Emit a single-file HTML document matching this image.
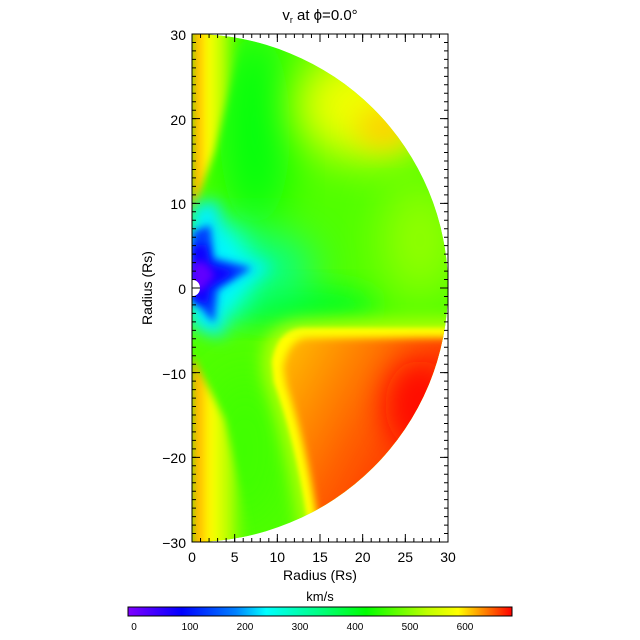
<!DOCTYPE html>
<html><head><meta charset="utf-8"><style>
html,body{margin:0;padding:0;background:#fff;}
svg{display:block;font-family:"Liberation Sans","DejaVu Sans",sans-serif;}
</style></head><body>
<svg width="640" height="640" viewBox="0 0 640 640" xmlns="http://www.w3.org/2000/svg">
<defs>
<clipPath id="semi"><path d="M192,34 A256,254 0 0 1 192,542 Z"/></clipPath>
<filter id="b8" x="-50%" y="-50%" width="200%" height="200%"><feGaussianBlur stdDeviation="8"/></filter>
<filter id="b14" x="-50%" y="-50%" width="200%" height="200%"><feGaussianBlur stdDeviation="14"/></filter>
<filter id="b22" x="-50%" y="-50%" width="200%" height="200%"><feGaussianBlur stdDeviation="22"/></filter>
<filter id="b4" x="-50%" y="-50%" width="200%" height="200%"><feGaussianBlur stdDeviation="4"/></filter>
<filter id="b2" x="-50%" y="-50%" width="200%" height="200%"><feGaussianBlur stdDeviation="2"/></filter>
<linearGradient id="leftT" x1="0" y1="0" x2="1" y2="0">
<stop offset="0" stop-color="#ff9800"/><stop offset="0.3" stop-color="#ffff00"/><stop offset="0.6" stop-color="#b0ff00"/><stop offset="1" stop-color="#40ff00" stop-opacity="0"/></linearGradient>
<linearGradient id="redg" x1="0" y1="0" x2="1" y2="0.7">
<stop offset="0" stop-color="#ffc000"/><stop offset="0.45" stop-color="#ff6000"/><stop offset="1" stop-color="#ff0000"/></linearGradient>
<linearGradient id="cb" x1="0" y1="0" x2="1" y2="0">
<stop offset="0" stop-color="#8000ff"/><stop offset="0.14" stop-color="#0000ff"/><stop offset="0.28" stop-color="#0080ff"/><stop offset="0.36" stop-color="#00ffff"/><stop offset="0.5" stop-color="#00ff80"/><stop offset="0.62" stop-color="#00ff00"/><stop offset="0.78" stop-color="#c0ff00"/><stop offset="0.86" stop-color="#ffff00"/><stop offset="0.93" stop-color="#ff8000"/><stop offset="1" stop-color="#ff0000"/></linearGradient>
</defs>
<g clip-path="url(#semi)">
<rect x="192" y="34" width="256" height="508" fill="#50ff00"/>
<ellipse cx="255" cy="130" rx="35" ry="100" fill="#00ff10" filter="url(#b22)"/>
<ellipse cx="300" cy="305" rx="80" ry="18" fill="#00ff20" filter="url(#b14)"/>
<ellipse cx="420" cy="240" rx="40" ry="60" fill="#90ff00" filter="url(#b22)"/>
<ellipse cx="245" cy="450" rx="40" ry="80" fill="#40ff00" filter="url(#b22)"/>
<ellipse cx="365" cy="105" rx="70" ry="55" fill="#f0ff00" filter="url(#b22)"/>
<ellipse cx="385" cy="128" rx="28" ry="20" fill="#ffd000" filter="url(#b14)"/>
<!-- left strips -->
<path d="M192,20 L245,20 L215,150 L192,215 Z" fill="url(#leftT)" filter="url(#b4)"/>
<path d="M192,556 L255,556 L225,420 L192,355 Z" fill="url(#leftT)" filter="url(#b4)"/>
<!-- lower right region -->
<path d="M262,360 Q266,322 300,320 L470,318 L470,570 L305,570 Q292,460 264,380 Z" fill="#b0ff00" filter="url(#b8)"/>
<path d="M272,362 Q277,330 302,328 L470,328 L470,570 L314,570 Q302,460 274,382 Z" fill="#ffff00" filter="url(#b2)"/>
<path d="M283,368 Q288,340 306,338 L470,338 L470,570 L324,570 Q312,460 286,385 Z" fill="url(#redg)" filter="url(#b4)"/>
<ellipse cx="420" cy="405" rx="35" ry="45" fill="#ff0800" filter="url(#b14)"/>
<!-- cyan -->
<ellipse cx="250" cy="268" rx="65" ry="35" fill="#00ff90" filter="url(#b22)"/>
<ellipse cx="220" cy="272" rx="30" ry="50" fill="#00ffff" filter="url(#b14)"/>
<path d="M192,205 L218,200 L225,255 L275,266 L225,295 L222,338 L192,325 Z" fill="#00f0ff" filter="url(#b8)"/>
<!-- blue star -->
<path d="M192,232 L210,225 L214,258 L252,268 L218,290 L214,323 L198,305 L192,305 Z" fill="#0040ff" filter="url(#b4)"/>
<path d="M192,245 L206,245 L210,264 L235,272 L210,288 L207,305 L192,298 Z" fill="#1000ff" filter="url(#b4)"/>
<path d="M192,262 L205,262 L215,275 L203,290 L192,292 Z" fill="#6000ff" filter="url(#b4)"/>
</g>
<ellipse cx="193" cy="288" rx="7" ry="8" fill="#fff"/>
<rect x="192" y="34" width="256" height="508" fill="none" stroke="#000" stroke-width="1"/>
<g stroke="#000" fill="none">
<line x1="191.5" y1="540" x2="449" y2="540" stroke-width="4" stroke-dasharray="1 7.5333"/>
<line x1="191.5" y1="36" x2="449" y2="36" stroke-width="4" stroke-dasharray="1 7.5333"/>
<line x1="191.5" y1="538" x2="449" y2="538" stroke-width="8" stroke-dasharray="1 41.667"/>
<line x1="191.5" y1="38" x2="449" y2="38" stroke-width="8" stroke-dasharray="1 41.667"/>
<line x1="194" y1="33.5" x2="194" y2="543" stroke-width="4" stroke-dasharray="1 7.4667"/>
<line x1="446" y1="33.5" x2="446" y2="543" stroke-width="4" stroke-dasharray="1 7.4667"/>
<line x1="196" y1="33.5" x2="196" y2="543" stroke-width="8" stroke-dasharray="1 83.667"/>
<line x1="444" y1="33.5" x2="444" y2="543" stroke-width="8" stroke-dasharray="1 83.667"/>
</g>
<g font-size="14" fill="#000" text-anchor="middle">
<text x="192" y="562">0</text><text x="234.7" y="562">5</text><text x="277.3" y="562">10</text><text x="320" y="562">15</text><text x="362.7" y="562">20</text><text x="405.3" y="562">25</text><text x="448" y="562">30</text>
<text x="320" y="580">Radius (Rs)</text>
</g>
<g font-size="14" fill="#000" text-anchor="end">
<text x="186" y="40">30</text><text x="186" y="125">20</text><text x="186" y="209">10</text><text x="186" y="294">0</text><text x="186" y="379">−10</text><text x="186" y="463">−20</text><text x="186" y="548">−30</text>
</g>
<text x="152" y="288" font-size="14" text-anchor="middle" transform="rotate(-90 152 288)">Radius (Rs)</text>
<text x="320" y="20" font-size="15" text-anchor="middle">v<tspan font-size="9" dy="3">r</tspan><tspan dy="-3"> at ϕ=0.0°</tspan></text>
<text x="320" y="601" font-size="13" text-anchor="middle">km/s</text>
<rect x="128" y="607" width="384" height="9" fill="url(#cb)" stroke="#000" stroke-width="1"/>
<g font-size="10" fill="#000" text-anchor="middle">
<text x="134" y="630">0</text><text x="190" y="630">100</text><text x="245" y="630">200</text><text x="300" y="630">300</text><text x="355" y="630">400</text><text x="410" y="630">500</text><text x="465" y="630">600</text>
</g>
</svg>
</body></html>
